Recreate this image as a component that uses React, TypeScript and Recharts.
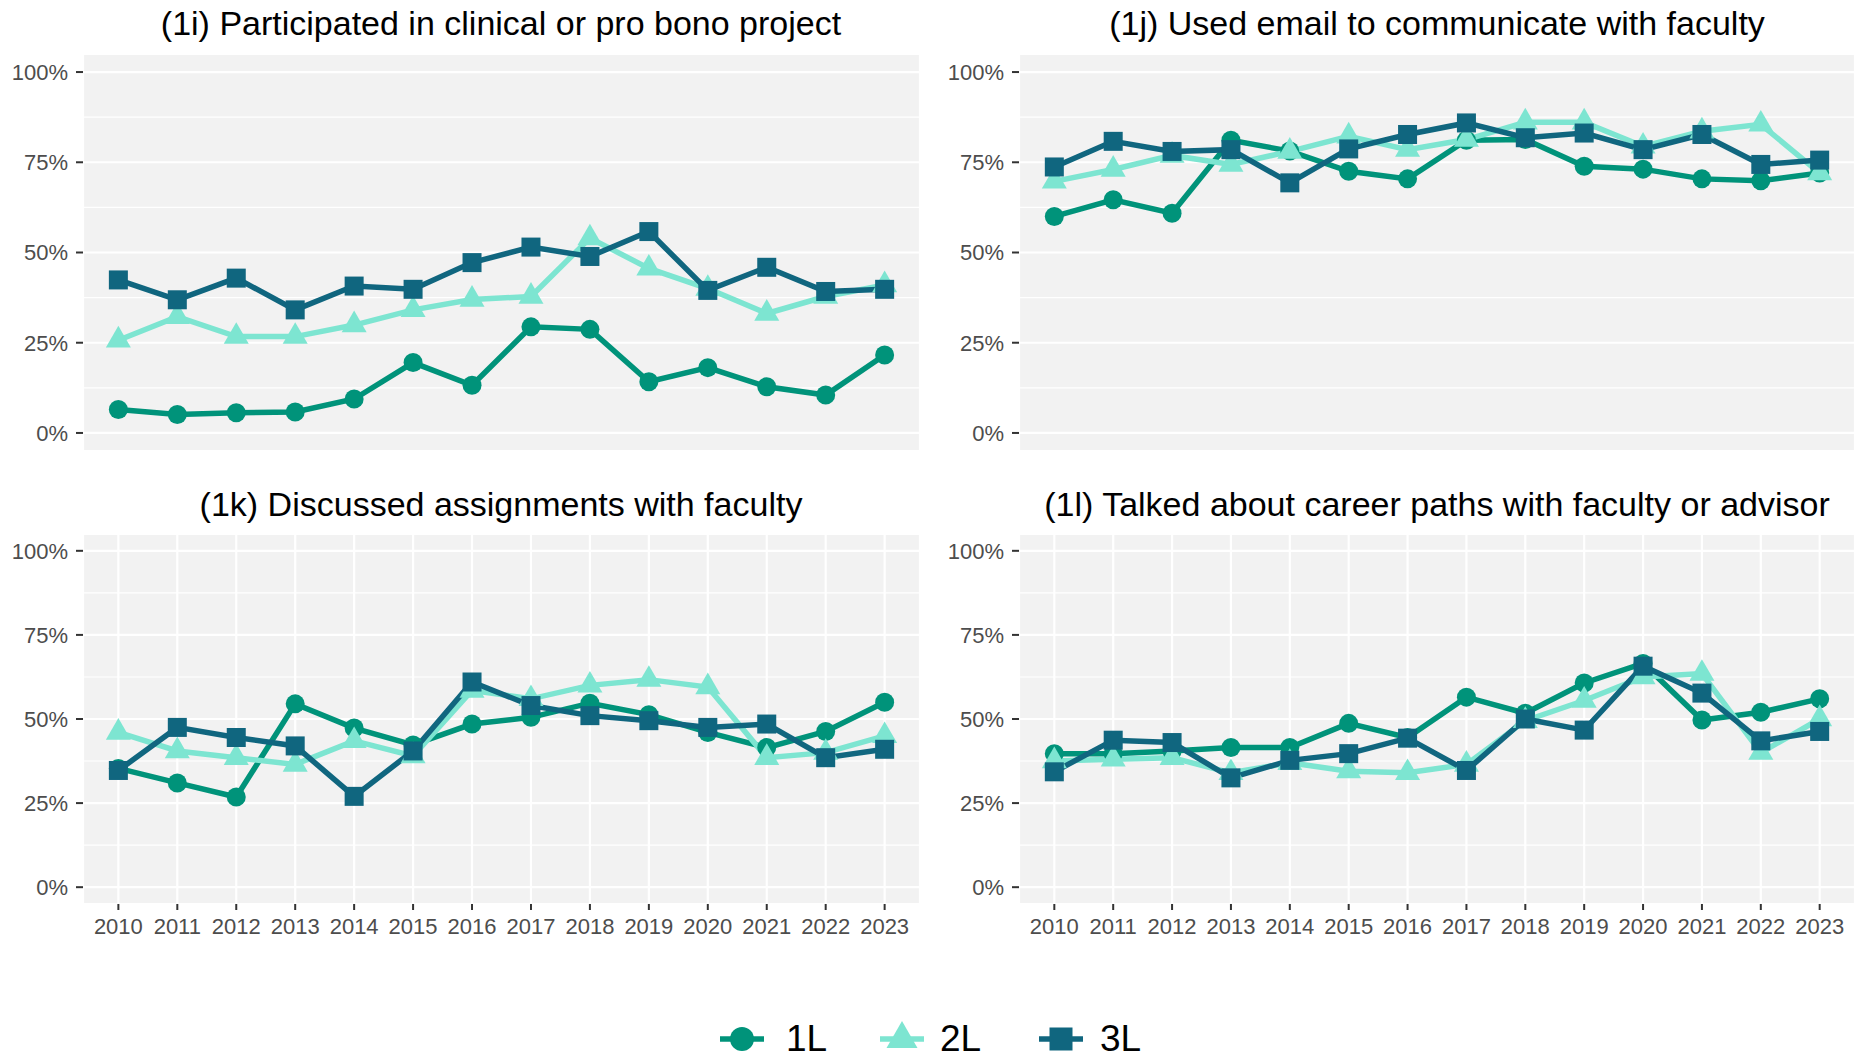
import React from 'react';
import { LineChart, Line, XAxis, YAxis, CartesianGrid, ReferenceLine } from 'recharts';

const years = [2010, 2011, 2012, 2013, 2014, 2015, 2016, 2017, 2018, 2019, 2020, 2021, 2022, 2023];
const yTicks = [0, 25, 50, 75, 100];
const yMinor = [12.5, 37.5, 62.5, 87.5];

// (1i) clinical / pro bono
const clinical1L = [6.5, 5.1, 5.6, 5.8, 9.4, 19.5, 13.2, 29.4, 28.7, 14.2, 18.1, 12.8, 10.5, 21.6];
const clinical2L = [25.7, 32.2, 26.7, 26.7, 29.9, 34.1, 37.0, 37.8, 54.0, 45.6, 40.0, 33.1, 37.8, 41.0];
const clinical3L = [42.4, 36.9, 42.9, 34.1, 40.7, 39.8, 47.2, 51.5, 48.9, 55.8, 39.5, 45.9, 39.2, 39.8];

// (1j) email with faculty
const email1L = [60.0, 64.6, 60.9, 81.1, 78.1, 72.5, 70.4, 81.1, 81.3, 73.9, 73.1, 70.4, 69.9, 72.0];
const email2L = [69.7, 73.0, 76.9, 74.4, 78.0, 82.2, 78.5, 81.3, 86.1, 86.1, 79.4, 83.6, 85.5, 72.0];
const email3L = [73.7, 80.8, 78.0, 78.5, 69.3, 78.7, 82.7, 85.9, 81.8, 83.1, 78.5, 82.7, 74.4, 75.6];

// (1k) assignments with faculty
const assign1L = [35.3, 31.0, 26.8, 54.5, 47.3, 42.3, 48.5, 50.5, 54.7, 51.3, 46.0, 41.5, 46.3, 55.0];
const assign2L = [46.0, 40.5, 38.5, 36.5, 43.5, 39.0, 58.5, 56.0, 60.0, 61.7, 59.5, 38.5, 40.0, 45.0];
const assign3L = [34.7, 47.5, 44.5, 42.0, 27.0, 40.5, 61.0, 54.0, 51.0, 49.5, 47.5, 48.5, 38.5, 41.0];

// (1l) career paths
const career1L = [39.7, 39.7, 40.5, 41.5, 41.5, 48.7, 44.5, 56.5, 51.7, 60.7, 66.5, 49.7, 52.0, 56.0];
const career2L = [37.5, 38.0, 38.5, 34.0, 37.0, 34.5, 34.0, 36.5, 49.5, 55.5, 62.5, 63.5, 40.0, 50.0];
const career3L = [34.3, 43.7, 43.0, 32.5, 37.7, 39.7, 44.3, 34.7, 50.0, 46.7, 65.7, 57.7, 43.5, 46.3];

const seriesNames = ['1L', '2L', '3L'];
const colors = { '1L': '#00937A', '2L': '#7DE5D1', '3L': '#10667F' };
const FONT = '"Liberation Sans", Arial, sans-serif';

const build = (a: number[], b: number[], c: number[]) =>
  years.map((y, i) => ({ year: y, '1L': a[i], '2L': b[i], '3L': c[i] }));

const circleDot = (color: string, r: number) => (p: any) => {
  if (p.cx == null || p.cy == null) return <g key={p.index} />;
  return <circle key={p.index} cx={p.cx} cy={p.cy} r={r} fill={color} stroke="none" />;
};
const triDot = (color: string, w: number) => (p: any) => {
  if (p.cx == null || p.cy == null) return <g key={p.index} />;
  const h = w * 0.866;
  const pts = `${p.cx},${p.cy - (2 * h) / 3} ${p.cx + w / 2},${p.cy + h / 3} ${p.cx - w / 2},${p.cy + h / 3}`;
  return <polygon key={p.index} points={pts} fill={color} stroke="none" />;
};
const squareDot = (color: string, s: number) => (p: any) => {
  if (p.cx == null || p.cy == null) return <g key={p.index} />;
  return <rect key={p.index} x={p.cx - s / 2} y={p.cy - s / 2} width={s} height={s} fill={color} stroke="none" />;
};

const dots: any = {
  '1L': circleDot(colors['1L'], 9.5),
  '2L': triDot(colors['2L'], 25),
  '3L': squareDot(colors['3L'], 19),
};

type PanelProps = {
  data: any[];
  left: number;
  top: number;
  width: number;
  yAxisWidth: number;
  rightMargin: number;
  plotHeight: number;
  showYears: boolean;
};

const Panel = ({ data, left, top, width, yAxisWidth, rightMargin, plotHeight, showYears }: PanelProps) => {
  const xHeight = showYears ? 42 : 10;
  return (
    <div style={{ position: 'absolute', left, top }}>
      <LineChart
        width={width}
        height={plotHeight + xHeight}
        data={data}
        margin={{ top: 0, right: rightMargin, bottom: 0, left: 0 }}
      >
        <CartesianGrid fill="#F2F2F2" stroke="#FFFFFF" strokeWidth={2.2} />
        {yMinor.map((v) => (
          <ReferenceLine key={v} y={v} stroke="#FFFFFF" strokeWidth={1.1} />
        ))}
        <XAxis
          dataKey="year"
          type="number"
          domain={[2009.4, 2023.6]}
          ticks={years}
          allowDataOverflow
          axisLine={false}
          height={xHeight}
          tickSize={6}
          tickMargin={8.5}
          tickLine={{ stroke: '#333333', strokeWidth: 2 }}
          tick={showYears ? { fill: '#4D4D4D', fontSize: 22, fontFamily: FONT } : false}
          interval={0}
        />
        <YAxis
          type="number"
          domain={[-5, 105]}
          ticks={yTicks}
          allowDataOverflow
          axisLine={false}
          width={yAxisWidth}
          tickSize={7}
          tickMargin={8}
          tickLine={{ stroke: '#333333', strokeWidth: 2 }}
          tick={{ fill: '#4D4D4D', fontSize: 22, fontFamily: FONT }}
          tickFormatter={(v: number) => `${v}%`}
        />
        {seriesNames.map((s) => (
          <Line
            key={`line-${s}`}
            type="linear"
            dataKey={s}
            stroke={colors[s as keyof typeof colors]}
            strokeWidth={5.5}
            dot={false}
            activeDot={false}
            isAnimationActive={false}
          />
        ))}
        {seriesNames.map((s) => (
          <Line
            key={`pts-${s}`}
            type="linear"
            dataKey={s}
            stroke="none"
            dot={dots[s]}
            activeDot={false}
            legendType="none"
            isAnimationActive={false}
          />
        ))}
      </LineChart>
    </div>
  );
};

const titles = [
  { text: '(1i) Participated in clinical or pro bono project', x: 501, y: 35 },
  { text: '(1j) Used email to communicate with faculty', x: 1437, y: 35 },
  { text: '(1k) Discussed assignments with faculty', x: 501, y: 515.5 },
  { text: '(1l) Talked about career paths with faculty or advisor', x: 1437, y: 515.5 },
];

const legendItems = [
  { name: '1L', cx: 742, tx: 786 },
  { name: '2L', cx: 902, tx: 940 },
  { name: '3L', cx: 1061, tx: 1100 },
];

export default function App() {
  return (
    <div style={{ position: 'absolute', left: 0, top: 0, width: 1857, height: 1059, background: '#FFFFFF', overflow: 'hidden' }}>
      <Panel data={build(clinical1L, clinical2L, clinical3L)} left={0} top={54} width={928} yAxisWidth={83} rightMargin={8} plotHeight={397} showYears={false} />
      <Panel data={build(email1L, email2L, email3L)} left={928} top={54} width={929} yAxisWidth={91} rightMargin={2} plotHeight={397} showYears={false} />
      <Panel data={build(assign1L, assign2L, assign3L)} left={0} top={534} width={928} yAxisWidth={83} rightMargin={8} plotHeight={370} showYears={true} />
      <Panel data={build(career1L, career2L, career3L)} left={928} top={534} width={929} yAxisWidth={91} rightMargin={2} plotHeight={370} showYears={true} />
      <svg width={1857} height={1059} style={{ position: 'absolute', left: 0, top: 0, pointerEvents: 'none' }}>
        {titles.map((t) => (
          <text key={t.text} x={t.x} y={t.y} textAnchor="middle" fontFamily={FONT} fontSize={34} fill="#000000">
            {t.text}
          </text>
        ))}
        {legendItems.map((it) => {
          const c = colors[it.name as keyof typeof colors];
          const cy = 1039;
          return (
            <g key={it.name}>
              <line x1={it.cx - 22} x2={it.cx + 22} y1={cy} y2={cy} stroke={c} strokeWidth={5.5} />
              {it.name === '1L' && <circle cx={it.cx} cy={cy} r={12} fill={c} />}
              {it.name === '2L' && (
                <polygon points={`${it.cx},${cy - 18} ${it.cx + 15.5},${cy + 9} ${it.cx - 15.5},${cy + 9}`} fill={c} />
              )}
              {it.name === '3L' && <rect x={it.cx - 11.5} y={cy - 11.5} width={23} height={23} fill={c} />}
              <text x={it.tx} y={1051} fontFamily={FONT} fontSize={37} fill="#000000">
                {it.name}
              </text>
            </g>
          );
        })}
      </svg>
    </div>
  );
}
